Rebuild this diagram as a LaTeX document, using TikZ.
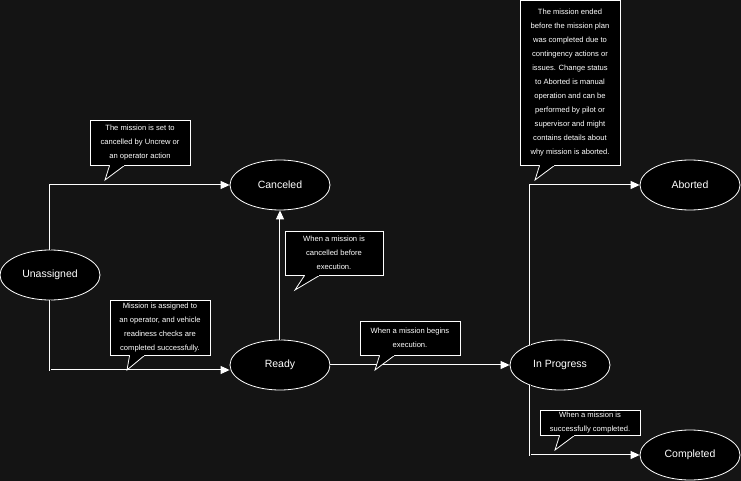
\documentclass[tikz,border=0pt]{standalone}
\usepackage{fontspec}
\setmainfont{Liberation Sans}
\usetikzlibrary{calc,arrows.meta,shapes.geometric}
\definecolor{bgdark}{HTML}{141414}
\begin{document}
\begin{tikzpicture}[x=1pt,y=-1pt,
    state/.style={ellipse, draw=white, fill=black, text=white, line width=0.8pt,
      minimum width=100pt, minimum height=50pt, inner sep=0pt, font=\fontsize{10.5}{12}\selectfont},
    note/.style={rectangle, draw=white, fill=black, text=white, line width=0.8pt,
      align=center, inner sep=1pt, font=\fontsize{7.6}{14}\selectfont},
    flow/.style={draw=white, double=bgdark, double distance=0.9pt, line width=0.9pt,
      -{Triangle[length=9pt,width=8pt,fill=white]}}]
  \fill[bgdark] (0,0) rectangle (741,481);
  \useasboundingbox (0,0) rectangle (741,481);
  % states
  \node[state] (unassigned) at (50,275) {Unassigned};
  \node[state] (canceled) at (280,185) {Canceled};
  \node[state] (ready) at (280,365) {Ready};
  \node[state] (progress) at (560,365) {In Progress};
  \node[state] (aborted) at (690,185) {Aborted};
  \node[state] (completed) at (690,455) {Completed};
  % transitions
  \draw[flow] (unassigned.north) |- (canceled.west);
  \draw[flow] (unassigned.south) |- ($(ready.west)+(0,5)$);
  \draw[flow] (ready.north) -- (canceled.south);
  \draw[flow] (ready.east) -- (progress.west);
  \draw[flow] ($(progress.center)+(-30,-20)$) |- (aborted.west);
  \draw[flow] ($(progress.center)+(-30,20)$) |- (completed.west);
  % notes
  \node[note, minimum width=100pt, minimum height=45pt] (cancelnote) at (140,142.5)
    {The mission is set to\\cancelled by Uncrew or\\an operator action};
  \node[note, minimum width=100pt, minimum height=55pt] (assignnote) at (160,327.5)
    {Mission is assigned to\\an operator, and vehicle\\readiness checks are\\completed successfully.};
  \node[note, minimum width=98pt, minimum height=44pt] (beforenote) at (334,253)
    {When a mission is\\cancelled before\\execution.};
  \node[note, minimum width=100pt, minimum height=34pt] (beginnote) at (410,338)
    {When a mission begins\\execution.};
  \node[note, minimum width=100pt, minimum height=165pt] (abortnote) at (570,82.5)
    {The mission ended\\before the mission plan\\was completed due to\\contingency actions or\\issues. Change status\\to Aborted is manual\\operation and can be\\performed by pilot or\\supervisor and might\\contains details about\\why mission is aborted.};
  \node[note, minimum width=100pt, minimum height=25pt] (donenote) at (590,422.5)
    {When a mission is\\successfully completed.};
  % tails
  \foreach \n/\tip in {cancelnote/{(105,180)}, assignnote/{(127,370)}, beforenote/{(295,290)},
      beginnote/{(375,370)}, abortnote/{(535,180)}, donenote/{(555,450)}}{
    \filldraw[draw=white, fill=black, line width=0.8pt]
      ($(\n.south west)+(20,0)$) -- \tip -- ($(\n.south west)+(35,0)$);
    \draw[black, line width=1pt] ($(\n.south west)+(20.6,0)$) -- ($(\n.south west)+(34.4,0)$);
  }
\end{tikzpicture}
\end{document}
